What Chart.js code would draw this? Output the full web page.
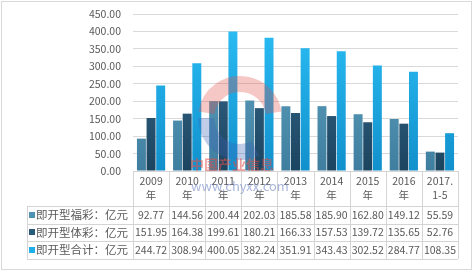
<!DOCTYPE html>
<html>
<head>
<meta charset="utf-8">
<script src="https://cdn.jsdelivr.net/npm/chart.js@4/dist/chart.umd.min.js"></script>
<style>
html,body{margin:0;padding:0;background:#fff;}
#wrap{position:relative;width:474px;height:274px;}
canvas{display:block;}
</style>
</head>
<body>
<div id="wrap"><canvas id="c" width="474" height="274"></canvas></div>
<script>
// ---- data ----
const categories = ['2009年','2010年','2011年','2012年','2013年','2014年','2015年','2016年','2017.1-5'];
const headerLines = [['2009','年'],['2010','年'],['2011','年'],['2012','年'],['2013','年'],['2014','年'],['2015','年'],['2016','年'],['2017.','1-5']];
const seriesNames = ['即开型福彩：亿元','即开型体彩：亿元','即开型合计：亿元'];
const fucai = [92.77,144.56,200.44,202.03,185.58,185.90,162.80,149.12,55.59];
const ticai = [151.95,164.38,199.61,180.21,166.33,157.53,139.72,135.65,52.76];
const total = [244.72,308.94,400.05,382.24,351.91,343.43,302.52,284.77,108.35];
const yTicks = [0,50,100,150,200,250,300,350,400,450];

const FONT = '"Noto Sans CJK SC", "Noto Sans", sans-serif';
const TXT = '#595959';
const LINE = '#d4d4d4';
const colorStops = [
  ['#66a8c7','#3f7e9e'],
  ['#3f7196','#1b445f'],
  ['#2cc0f6','#1190cc']
];
const swatch = ['#4f93b3','#2a5a7a','#1eaee8'];

function grad(idx){
  return function(ctx){
    const ch = ctx.chart, a = ch.chartArea;
    if(!a) return colorStops[idx][0];
    const g = ch.ctx.createLinearGradient(0, a.top, 0, a.bottom);
    g.addColorStop(0, colorStops[idx][0]);
    g.addColorStop(1, colorStops[idx][1]);
    return g;
  };
}

const tablePlugin = {
  id: 'dataTable',
  afterDatasetsDraw(chart){
    const c = chart.ctx;
    c.save();
    c.globalAlpha = 0.32;
    c.lineWidth = 16;
    c.strokeStyle = '#e0504a';
    c.beginPath(); c.arc(240, 118, 34, Math.PI*1.05, Math.PI*1.95); c.stroke();
    c.strokeStyle = '#3a62b8';
    c.beginPath(); c.arc(240, 118, 34, Math.PI*0.35, Math.PI*1.0); c.stroke();
    c.globalAlpha = 0.55;
    c.fillStyle = '#e0504a';
    c.font = 'bold 14px ' + FONT;
    c.textAlign = 'center'; c.textBaseline = 'middle';
    c.fillText('中国产业信息', 232, 165);
    c.restore();
  },
  afterDraw(chart){
    const c = chart.ctx, a = chart.chartArea, xs = chart.scales.x;
    const n = categories.length;
    const w = (a.right - a.left) / n;
    const top = a.bottom;
    const rowTops = [top + 35, top + 52.5, top + 70, top + 87.5];
    const labelLeft = 27;
    c.save();
    c.strokeStyle = LINE; c.lineWidth = 1;
    c.beginPath();
    c.moveTo(a.left, Math.round(top) + 0.5); c.lineTo(a.right, Math.round(top) + 0.5);
    rowTops.forEach(y => { c.moveTo(labelLeft, Math.round(y)+0.5); c.lineTo(a.right, Math.round(y)+0.5); });
    c.moveTo(labelLeft + 0.5, rowTops[0]); c.lineTo(labelLeft + 0.5, rowTops[3]);
    for(let k=0;k<=n;k++){
      const x = Math.round(a.left + k*w) + 0.5;
      c.moveTo(x, top); c.lineTo(x, Math.round(rowTops[3]));
    }
    c.stroke();

    c.fillStyle = TXT;
    c.textAlign = 'center'; c.textBaseline = 'middle';
    c.font = '10.5px ' + FONT;
    for(let i=0;i<n;i++){
      const cx = xs.getPixelForValue(i);
      c.fillText(headerLines[i][0], cx, top + 10);
      c.fillText(headerLines[i][1], cx, top + 24);
    }
    const sets = [fucai, ticai, total];
    for(let r=0;r<3;r++){
      const cy = (rowTops[r] + rowTops[r+1]) / 2;
      c.fillStyle = swatch[r];
      c.fillRect(labelLeft + 2, Math.round(cy) - 3, 6, 6);
      c.fillStyle = TXT;
      c.textAlign = 'left';
      c.font = '11.5px ' + FONT;
      c.fillText(seriesNames[r], labelLeft + 9, cy);
      c.textAlign = 'center';
      c.font = '10.5px ' + FONT;
      for(let i=0;i<n;i++){
        c.fillText(sets[r][i].toFixed(2), xs.getPixelForValue(i), cy);
      }
    }
    c.globalAlpha = 0.6;
    c.fillStyle = '#6f86c4';
    c.font = '13px ' + FONT;
    c.fillText('www.chyxx.com', 240, 186);
    c.globalAlpha = 1;
    c.strokeStyle = '#d9d9d9';
    c.strokeRect(1.5, 1.5, 470, 268);
    c.restore();
  }
};

new Chart(document.getElementById('c'), {
  type: 'bar',
  data: {
    labels: categories,
    datasets: [
      { label: seriesNames[0], data: fucai, backgroundColor: grad(0) },
      { label: seriesNames[1], data: ticai, backgroundColor: grad(1) },
      { label: seriesNames[2], data: total, backgroundColor: grad(2) }
    ]
  },
  options: {
    responsive: false,
    animation: false,
    devicePixelRatio: 1,
    layout: { padding: { left: 0, top: 14, right: 16, bottom: 103 } },
    plugins: { legend: { display: false }, tooltip: { enabled: false } },
    datasets: { bar: { barPercentage: 0.93, categoryPercentage: 0.8 } },
    scales: {
      x: { display: false },
      y: {
        min: 0, max: 450,
        afterFit(s){ s.width = 133; s.paddingTop = 0; s.paddingBottom = 0; },
        afterBuildTicks(s){ s.ticks = yTicks.map(v => ({ value: v })); },
        border: { display: false },
        grid: { color: '#d9d9d9', drawTicks: false },
        ticks: {
          padding: 12,
          color: TXT,
          font: { family: FONT, size: 10.5 },
          callback: v => Number(v).toFixed(2)
        }
      }
    }
  },
  plugins: [tablePlugin]
});
</script>
</body>
</html>
